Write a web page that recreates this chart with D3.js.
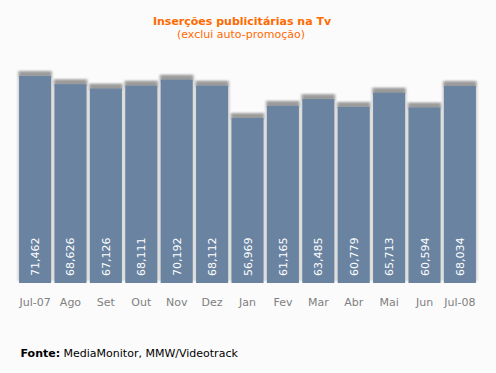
<!DOCTYPE html>
<html><head><meta charset="utf-8">
<script src="https://cdn.jsdelivr.net/npm/d3@7/dist/d3.min.js"></script>
<style>
html,body{margin:0;padding:0;background:#fbfbfb;}
svg{display:block;}
</style></head>
<body>
<script>
const months = ["Jul-07","Ago","Set","Out","Nov","Dez","Jan","Fev","Mar","Abr","Mai","Jun","Jul-08"];
const values = [71462,68626,67126,68111,70192,68112,56969,61165,63485,60779,65713,60594,68034];
const valueLabels = ["71,462","68,626","67,126","68,111","70,192","68,112","56,969","61,165","63,485","60,779","65,713","60,594","68,034"];
const title = "Inserções publicitárias na Tv";
const subtitle = "(exclui auto-promoção)";

const W = 496, H = 373;
const svg = d3.select("body").append("svg").attr("width", W).attr("height", H);
svg.append("rect").attr("width", W).attr("height", H).attr("fill", "#fbfbfb");

const defs = svg.append("defs");
defs.append("filter").attr("id","blurS").attr("x","-50%").attr("y","-50%").attr("width","200%").attr("height","200%")
  .append("feGaussianBlur").attr("stdDeviation", 1.2);
defs.append("filter").attr("id","blurT").attr("x","-50%").attr("y","-50%").attr("width","200%").attr("height","200%")
  .append("feGaussianBlur").attr("stdDeviation", 0.9);

const x = d3.scaleBand().domain(months).range([17.3, 477.7]).paddingInner(0.095).paddingOuter(0.05);
const y = d3.scaleLinear().domain([0, 71462]).range([283, 76]);

const font = "DejaVu Sans, Verdana, sans-serif";

// title
svg.append("text").attr("x", 242).attr("y", 25).attr("text-anchor","middle")
  .attr("font-family", font).attr("font-weight","bold").attr("font-size", 11)
  .attr("fill", "#ff6a00").text(title);
svg.append("text").attr("x", 241).attr("y", 37.5).attr("text-anchor","middle")
  .attr("font-family", font).attr("font-size", 11)
  .attr("fill", "#ff6a00").text(subtitle);

const g = svg.append("g");
// side shadows
g.selectAll("rect.side").data(values).join("rect").attr("class","side")
  .attr("x", (d,i)=>x(months[i]) - 1.5).attr("y", d=>y(d)-5)
  .attr("width", x.bandwidth()+3).attr("height", d=>283 - y(d) + 3)
  .attr("fill", "#d2d2d2").attr("filter","url(#blurS)");
// top shadow
g.selectAll("rect.top").data(values).join("rect").attr("class","top")
  .attr("x", (d,i)=>x(months[i])).attr("y", d=>y(d)-4.5)
  .attr("width", x.bandwidth()).attr("height", 6)
  .attr("fill", "#9a9a9a").attr("filter","url(#blurT)");
// bars
g.selectAll("rect.bar").data(values).join("rect").attr("class","bar")
  .attr("x", (d,i)=>x(months[i])).attr("y", d=>y(d))
  .attr("width", x.bandwidth()).attr("height", d=>283 - y(d))
  .attr("fill", "#6983a1");

// value labels
g.selectAll("text.val").data(valueLabels).join("text").attr("class","val")
  .attr("transform", (d,i)=>`translate(${x(months[i]) + x.bandwidth()/2 + 4},276) rotate(-90)`)
  .attr("font-family", font).attr("font-size", 11).attr("fill", "#ffffff")
  .text(d=>d);

// month axis
const axis = d3.axisBottom(x).tickSize(0).tickPadding(0);
const ag = svg.append("g").attr("transform","translate(0,298)").call(axis);
ag.select(".domain").remove();
ag.selectAll("text").attr("font-family", font).attr("font-size", 11).attr("fill","#7f7f7f").attr("dy","0.71em");

// source
const src = svg.append("text").attr("x", 20.5).attr("y", 357)
  .attr("font-family", font).attr("font-size", 11).attr("fill","#000");
src.append("tspan").attr("font-weight","bold").text("Fonte:");
src.append("tspan").text(" MediaMonitor, MMW/Videotrack");
</script>
</body></html>
